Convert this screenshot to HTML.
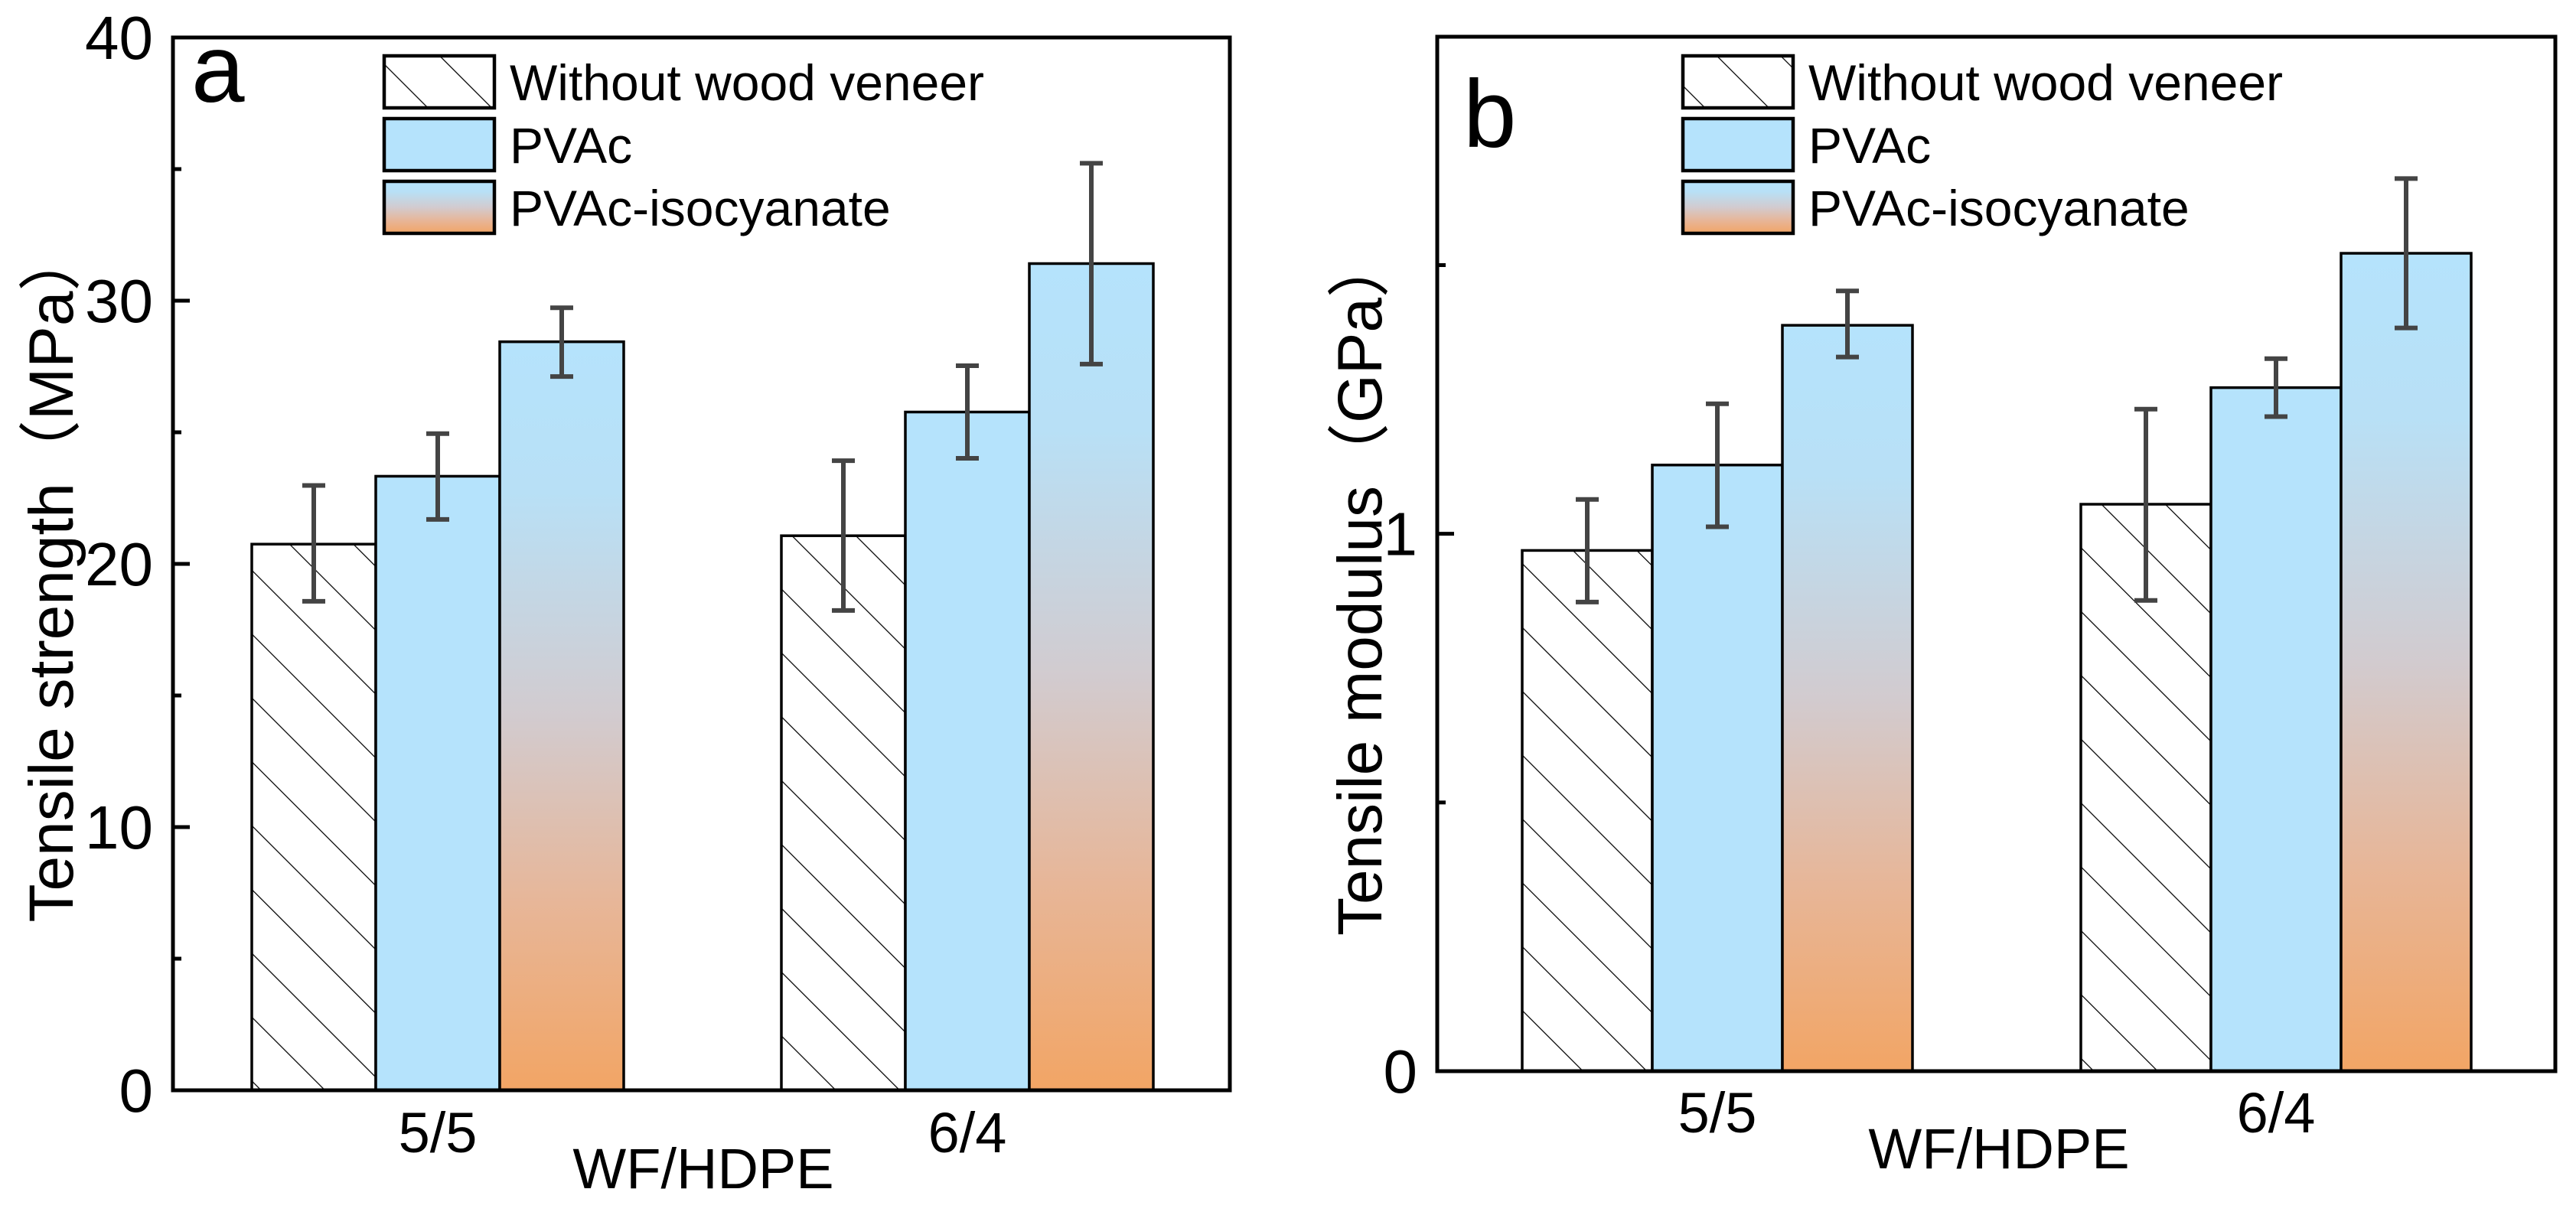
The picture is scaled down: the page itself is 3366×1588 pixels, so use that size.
<!DOCTYPE html>
<html><head><meta charset="utf-8"><style>
html,body{margin:0;padding:0;background:#fff;}
svg{display:block;font-family:"Liberation Sans","Noto Sans CJK SC",sans-serif;}
</style></head><body>
<svg id="chart" width="3366" height="1588" viewBox="0 0 3366 1588" xmlns="http://www.w3.org/2000/svg">
<defs>
<pattern id="hatch" patternUnits="userSpaceOnUse" width="59" height="59" patternTransform="rotate(-45)">
<rect width="59" height="59" fill="#fff"/>
<line x1="0" y1="0" x2="0" y2="59" stroke="#000" stroke-width="2.5"/>
</pattern>
<linearGradient id="grad" x1="0" y1="0" x2="0" y2="1">
<stop offset="0" stop-color="#b5e3fc"/>
<stop offset="0.2" stop-color="#b8e0f6"/>
<stop offset="0.5" stop-color="#d2cbcf"/>
<stop offset="0.75" stop-color="#e7b698"/>
<stop offset="1" stop-color="#f2a565"/>
</linearGradient>
</defs>
<g id="root"></g>
</svg>
<script>
const categories = ["5/5", "6/4"];
const seriesNames = ["Without wood veneer", "PVAc", "PVAc-isocyanate"];
const strengthValues = [[20.75, 21.07], [23.33, 25.77], [28.44, 31.41]];
const strengthErrHi = [[22.98, 23.92], [24.95, 27.53], [29.73, 35.22]];
const strengthErrLo = [[18.58, 18.23], [21.69, 24.01], [27.12, 27.59]];
const strengthTicks = [0, 10, 20, 30, 40];
const modulusValues = [[0.969, 1.055], [1.128, 1.272], [1.388, 1.522]];
const modulusErrHi = [[1.064, 1.232], [1.242, 1.326], [1.452, 1.661]];
const modulusErrLo = [[0.873, 0.876], [1.013, 1.218], [1.329, 1.383]];
const modulusTicks = [0, 1];

const NS = "http://www.w3.org/2000/svg";
const root = document.getElementById("root");
const fills = ["url(#hatch)", "#b5e3fc", "url(#grad)"];
function mk(tag, attrs, parent) {
  const e = document.createElementNS(NS, tag);
  for (const k in attrs) e.setAttribute(k, attrs[k]);
  (parent || root).appendChild(e);
  return e;
}

function panel(cfg) {
  const g = mk("g", {});
  
  
  const L = cfg.left, R = cfg.right, T = cfg.top, B = cfg.bottom;
  const yScale = v => B - (v - cfg.ymin) / (cfg.ymax - cfg.ymin) * (B - T);
  const barW = cfg.barW;
  for (let s = 0; s < 3; s++) {
    for (let c = 0; c < categories.length; c++) {
      const x = cfg.groupStart[c] + s * barW;
      const v = cfg.values[s][c];
      const y = yScale(v);
      const r = mk("rect", {x: x, y: y, width: barW, height: B - y, fill: fills[s], stroke: "#000", "stroke-width": 3.5}, g);
      
      
    }
  }
  for (let s = 0; s < 3; s++) {
    for (let c = 0; c < categories.length; c++) {
      const cx = cfg.groupStart[c] + s * barW + barW / 2;
      const yh = yScale(cfg.hi[s][c]), yl = yScale(cfg.lo[s][c]);
      const eg = mk("g", {stroke: "#444", "stroke-width": 6}, g);
      
      
      mk("line", {x1: cx, y1: yh, x2: cx, y2: yl}, eg);
      mk("line", {x1: cx - 15, y1: yh, x2: cx + 15, y2: yh}, eg);
      mk("line", {x1: cx - 15, y1: yl, x2: cx + 15, y2: yl}, eg);
    }
  }
  const fr = mk("rect", {x: L, y: T, width: R - L, height: B - T, fill: "none", stroke: "#000", "stroke-width": 5}, g);
  
  
  const step = cfg.ticks[1] - cfg.ticks[0];
  for (let v = cfg.ymin; v <= cfg.ymax + 1e-9; v += step / 2) {
    const major = Math.abs(v / step - Math.round(v / step)) < 1e-6;
    const y = yScale(v);
    mk("line", {x1: L, y1: y, x2: L + (major ? 22 : 11), y2: y, stroke: "#000", "stroke-width": 5}, g);
  }
  cfg.ticks.forEach(t => {
    const tx = mk("text", {x: L - 26, y: yScale(t) + 28, "font-size": 80, "text-anchor": "end", fill: "#000"}, g);
    tx.textContent = String(t);
    
    
  });
  categories.forEach((cat, c) => {
    const cx = cfg.groupStart[c] + barW * 1.5;
    const tx = mk("text", {x: cx, y: cfg.catY, "font-size": 74, "text-anchor": "middle"}, g);
    tx.textContent = cat;
    
    
  });
  const xt = mk("text", {x: cfg.xTitleX, y: cfg.xTitleY, "font-size": 74, "text-anchor": "middle"}, g);
  xt.textContent = "WF/HDPE";
  
  
  const yt = mk("text", {x: 0, y: 0, "font-size": 82, "text-anchor": "middle", transform: "translate(" + cfg.yTitleX + "," + cfg.yTitleY + ") rotate(-90)"}, g);
  yt.textContent = cfg.yTitle;
  
  
  const pl = mk("text", {x: cfg.labelX, y: cfg.labelY, "font-size": 125}, g);
  pl.textContent = cfg.label;
  
  
  const lg = mk("g", {}, g);
  
  
  seriesNames.forEach((nm, s) => {
    const y = cfg.legTop + s * 82;
    const ent = mk("g", {}, lg);
    
    
    mk("rect", {x: cfg.legX, y: y, width: 144, height: 68, fill: fills[s], stroke: "#000", "stroke-width": 4.5}, ent);
    const t = mk("text", {x: cfg.legX + 164, y: y + 58, "font-size": 66}, ent);
    t.textContent = nm;
  });
}

panel({name: "panel-a-tensile-strength", left: 226, right: 1607, top: 49, bottom: 1425, ymin: 0, ymax: 40,
  ticks: strengthTicks, values: strengthValues, hi: strengthErrHi, lo: strengthErrLo,
  groupStart: [329, 1021], barW: 162, catY: 1506, xTitleX: 919, xTitleY: 1553,
  yTitleX: 95, yTitleY: 752, yTitle: "Tensile strength（MPa）", label: "a", labelX: 250, labelY: 133,
  legX: 502, legTop: 73});
panel({name: "panel-b-tensile-modulus", left: 1878, right: 3339, top: 48, bottom: 1400, ymin: 0, ymax: 1.925,
  ticks: modulusTicks, values: modulusValues, hi: modulusErrHi, lo: modulusErrLo,
  groupStart: [1989, 2719], barW: 170, catY: 1480, xTitleX: 2612, xTitleY: 1527,
  yTitleX: 1805, yTitleY: 765, yTitle: "Tensile modulus（GPa）", label: "b", labelX: 1912, labelY: 192,
  legX: 2199, legTop: 73});
</script>
</body></html>
